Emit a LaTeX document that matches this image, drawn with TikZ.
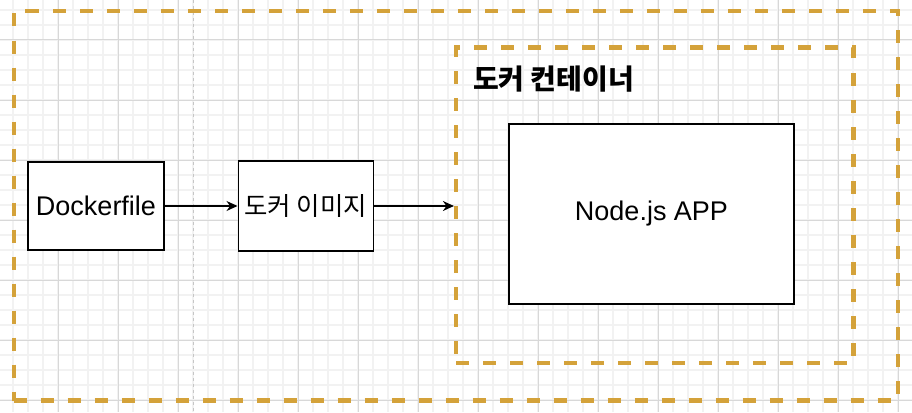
\documentclass[tikz,border=0pt]{standalone}
\usepackage{fontspec}
\setmainfont{Liberation Sans}
\newfontfamily\kr{Noto Sans CJK KR}
\usetikzlibrary{arrows.meta}
\definecolor{gold}{RGB}{212,162,58}
\definecolor{gridmin}{RGB}{242,242,242}
\definecolor{gridmaj}{RGB}{216,216,216}
\begin{document}
\begin{tikzpicture}[x=1pt,y=-1pt,
  box/.style={draw=black, line width=1.6pt, fill=white, inner sep=0pt},
  container/.style={draw=gold, line width=4.2pt, dash pattern=on 13pt off 14pt, inner sep=0pt},
  arr/.style={-{Stealth[length=11pt,width=10pt]}, line width=1.2pt},
  latin/.style={font=\fontsize{27}{30}\selectfont},
  korean/.style={font=\kr\fontsize{25.4}{30}\selectfont}]
\useasboundingbox (0,0) rectangle (912,412);
\fill[white] (0,0) rectangle (912,412);
\foreach \x in {-2,13,...,913} \draw[gridmin, line width=1.2pt] (\x,0) -- (\x,412);
\foreach \y in {10,25,...,412} \draw[gridmin, line width=1.2pt] (0,\y) -- (912,\y);
\foreach \x in {58,118,...,900} \draw[gridmaj, line width=1pt] (\x,0) -- (\x,412);
\foreach \y in {40,100,...,400} \draw[gridmaj, line width=1pt] (0,\y) -- (912,\y);
\draw[gray!45, dashed, line width=1pt] (193,0) -- (193,412);
\node[container, minimum width=884.3pt, minimum height=389.2pt] (outer) at (455.85,205.9) {};
\node[container, minimum width=397.5pt, minimum height=315.5pt] (inner) at (654.75,205.25) {};
\node[anchor=west, font=\kr\bfseries\fontsize{28}{30}\selectfont] (title) at (469.5,79) {도커 컨테이너};
\node[box, minimum width=285pt, minimum height=180pt, latin] (app) at (651.5,213.8) {Node.js APP};
\node[box, minimum width=136pt, minimum height=88pt, latin] (dockerfile) at (96,206) {Dockerfile};
\node[box, minimum width=135pt, minimum height=90pt, korean] (image) at (305.8,206) {도커 이미지};
\draw[arr] (dockerfile.east) -- (image.west);
\draw[arr] (image.east) -- (image.east -| inner.west);
\end{tikzpicture}
\end{document}
